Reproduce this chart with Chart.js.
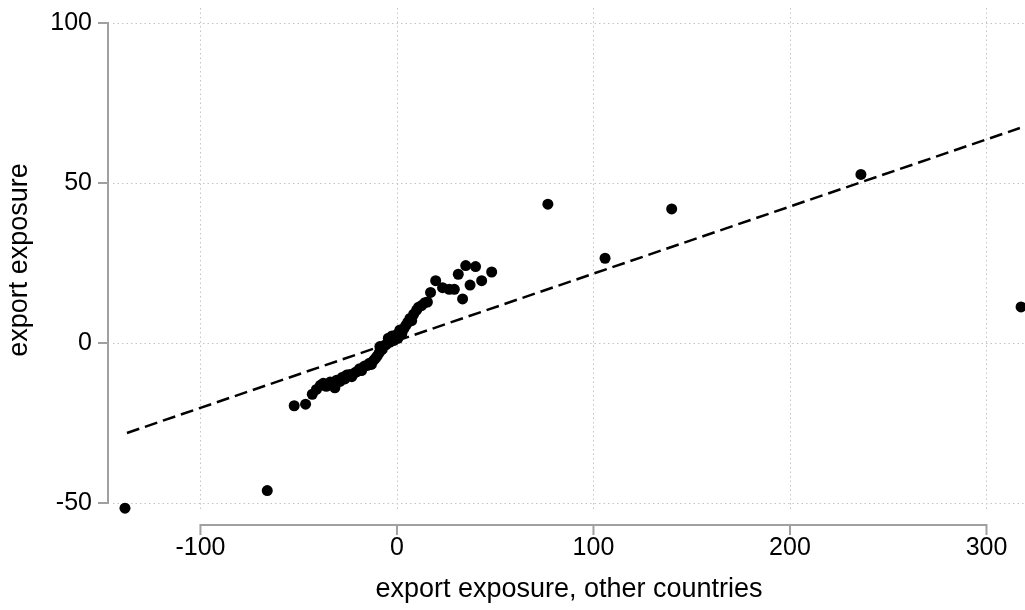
<!DOCTYPE html>
<html>
<head>
<meta charset="utf-8">
<script src="https://cdn.jsdelivr.net/npm/chart.js@4/dist/chart.umd.min.js"></script>
<style>
  html, body { margin: 0; padding: 0; background: #fff; }
  #wrap { width: 1025px; height: 610px; }
</style>
</head>
<body>
<div id="wrap"><canvas id="chart" width="1025" height="610"></canvas></div>
<script>
// ---- data ----
const xVals = [-138.4, -66.0, -52.3, -46.5, -43.1, -41.0, -39.0, -37.5, -36.0, -34.0,
  -32.0, -31.6, -30.7, -29.0, -28.0, -26.5, -25.6, -24.0, -23.0, -21.5,
  -20.5, -19.0, -18.0, -16.5, -15.0, -14.0, -13.0, -12.0, -11.0, -10.0,
  -9.0, -8.7, -7.5, -6.5, -5.5, -4.4, -3.5, -2.5, -1.5, -0.5,
  0.5, 1.0, 1.5, 2.5, 3.5, 4.5, 5.5, 6.6, 7.5, 8.5,
  10.0, 11.0, 12.5, 14.2, 15.5, 17.1, 19.7, 23.2, 26.6, 29.2,
  31.2, 33.4, 35.0, 37.2, 40.0, 43.1, 48.2, 76.8, 105.9, 139.8,
  236.1, 317.6];
const yVals = [-51.6, -46.1, -19.6, -19.1, -16.0, -14.5, -13.2, -12.6, -13.5, -12.2,
  -12.5, -14.0, -11.6, -12.0, -10.8, -11.2, -10.0, -9.8, -10.5, -9.3,
  -9.0, -8.0, -8.6, -7.2, -7.0, -6.3, -6.7, -5.5, -4.8, -4.0,
  -3.0, -1.1, -2.0, -0.8, -0.5, 1.5, 0.3, 2.2, 0.8, 2.5,
  1.5, 3.2, 4.1, 3.0, 4.5, 5.5, 6.5, 7.7, 7.0, 9.0,
  10.3, 11.2, 11.7, 12.6, 12.8, 15.8, 19.5, 17.3, 16.8, 16.8,
  21.5, 13.8, 24.2, 18.1, 23.9, 19.5, 22.2, 43.4, 26.5, 41.9,
  52.7, 11.3];

// fitted line end points
const fitX = [-137.4, 317.0];
const fitY = [-28.1, 67.2];

const xTicks = [-100, 0, 100, 200, 300];
const yTicks = [-50, 0, 50, 100];
const xTitle = 'export exposure, other countries';
const yTitle = 'export exposure';

const FONT = 'Liberation Sans, Arial, sans-serif';

// grid + offset axes in Stata style
const stataAxes = {
    id: 'stataAxes',
    beforeDatasetsDraw(chart) {
        const { ctx, chartArea, scales } = chart;
        const xs = scales.x, ys = scales.y;
        ctx.save();
        // dotted grid
        ctx.strokeStyle = '#c4c4c4';
        ctx.lineWidth = 1;
        ctx.setLineDash([1.5, 3]);
        xTicks.forEach(v => {
            const px = Math.round(xs.getPixelForValue(v)) + 0.5;
            ctx.beginPath();
            ctx.moveTo(px, chartArea.top);
            ctx.lineTo(px, chartArea.bottom);
            ctx.stroke();
        });
        yTicks.forEach(v => {
            const py = Math.round(ys.getPixelForValue(v)) + 0.5;
            ctx.beginPath();
            ctx.moveTo(chartArea.left, py);
            ctx.lineTo(chartArea.right, py);
            ctx.stroke();
        });
        ctx.setLineDash([]);

        // axis lines
        ctx.strokeStyle = '#a0a0a0';
        ctx.lineWidth = 2;
        const axX = chartArea.left - 5;
        const axY = chartArea.bottom + 13;
        ctx.beginPath();
        ctx.moveTo(axX, ys.getPixelForValue(yTicks[yTicks.length - 1]));
        ctx.lineTo(axX, ys.getPixelForValue(yTicks[0]));
        yTicks.forEach(v => {
            const py = ys.getPixelForValue(v);
            ctx.moveTo(axX + 1, py);
            ctx.lineTo(axX - 10, py);
        });
        ctx.moveTo(xs.getPixelForValue(xTicks[0]), axY);
        ctx.lineTo(xs.getPixelForValue(xTicks[xTicks.length - 1]), axY);
        xTicks.forEach(v => {
            const px = xs.getPixelForValue(v);
            ctx.moveTo(px, axY - 1);
            ctx.lineTo(px, axY + 10);
        });
        ctx.stroke();
        ctx.restore();
    }
};

const ctx = document.getElementById('chart').getContext('2d');
const chart = new Chart(ctx, {
    type: 'scatter',
    data: {
        datasets: [
            {
                label: 'fit',
                type: 'line',
                data: fitX.map((x, i) => ({ x: x, y: fitY[i] })),
                borderColor: '#000',
                borderWidth: 2.5,
                borderDash: [13, 6],
                pointRadius: 0,
                fill: false,
                clip: false
            },
            {
                label: 'points',
                data: xVals.map((x, i) => ({ x: x, y: yVals[i] })),
                backgroundColor: '#000',
                borderColor: '#000',
                pointRadius: 5.5,
                pointBorderWidth: 0,
                clip: false
            }
        ]
    },
    options: {
        responsive: false,
        animation: false,
        devicePixelRatio: 1,
        layout: { autoPadding: false, padding: { top: 8, right: 0, left: 0, bottom: 0 } },
        plugins: { legend: { display: false }, tooltip: { enabled: false } },
        scales: {
            x: {
                type: 'linear',
                min: -144.5,
                max: 319.6,
                afterBuildTicks: s => { s.ticks = xTicks.map(v => ({ value: v })); },
                afterFit: s => {
                    s.height = 98;
                    s.paddingLeft = 0; s.paddingRight = 0;
                    s.paddingTop = 0; s.paddingBottom = 0;
                },
                grid: { display: false, drawTicks: false },
                border: { display: false },
                ticks: { color: '#000', padding: 21, maxRotation: 0, autoSkip: false,
                         font: { family: FONT, size: 25 } },
                title: { display: true, text: xTitle, color: '#000',
                         padding: { top: 0, bottom: 4 },
                         font: { family: FONT, size: 27 } }
            },
            y: {
                type: 'linear',
                min: -52.8,
                max: 104.7,
                afterBuildTicks: s => { s.ticks = yTicks.map(v => ({ value: v })); },
                afterFit: s => {
                    s.width = 113;
                    s.paddingLeft = 0; s.paddingRight = 0;
                    s.paddingTop = 0; s.paddingBottom = 0;
                },
                grid: { display: false, drawTicks: false },
                border: { display: false },
                ticks: { color: '#000', padding: 21, autoSkip: false,
                         font: { family: FONT, size: 25 } },
                title: { display: true, text: yTitle, color: '#000',
                         padding: { top: 3, bottom: 0 },
                         font: { family: FONT, size: 27 } }
            }
        }
    },
    plugins: [stataAxes]
});
</script>
</body>
</html>
